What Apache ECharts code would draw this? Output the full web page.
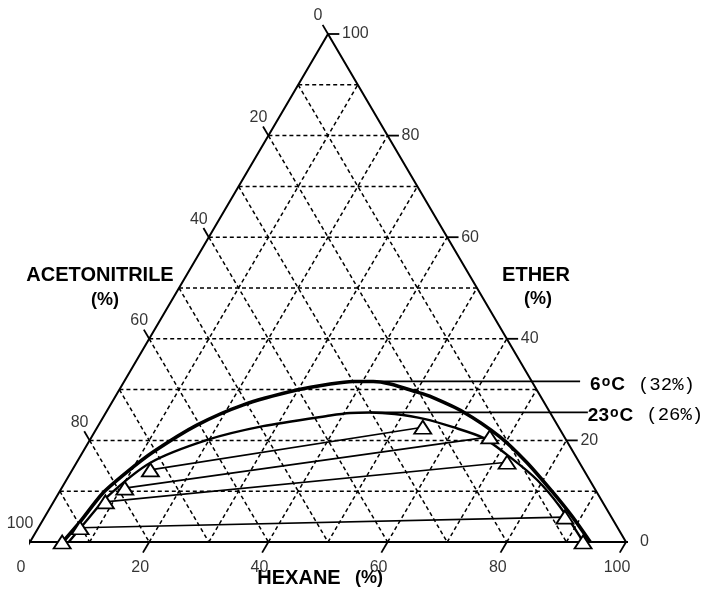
<!DOCTYPE html>
<html><head><meta charset="utf-8">
<script src="https://cdn.jsdelivr.net/npm/echarts@6/dist/echarts.min.js"></script>
<style>html,body{margin:0;padding:0;background:#fff}#c{width:717px;height:599px}</style>
</head><body><div id="c"></div>
<script>
// Ternary data: hexane %, ether % (acetonitrile = 100 - hexane - ether)
const gridLevels = [10, 20, 30, 40, 50, 60, 70, 80, 90];
const tickValues = [0, 20, 40, 60, 80, 100];

// 6 °C binodal curve (max ether 32 %)
const curve6Hexane = [5.5, 6.4, 7.4, 9.4, 11.8, 16.5, 22.3, 29.8, 34.8, 38.4, 41.8, 44.9, 50.2, 52.7, 59.9, 68.5, 75.6, 82.8, 88.6, 94.0];
const curve6Ether  = [0.0, 3.9, 9.6, 13.8, 17.7, 23.0, 27.0, 29.9, 31.1, 31.6, 31.6, 31.1, 29.5, 28.7, 25.6, 20.7, 15.6, 9.8, 4.9, 0.0];

// 23 °C binodal curve (max ether 26 %)
const curve23Hexane = [6.5, 7.4, 8.5, 12.4, 19.7, 27.7, 37.9, 41.0, 44.3, 48.6, 54.2, 59.7, 65.8, 72.2, 79.0, 85.5, 91.8, 92.6];
const curve23Ether  = [0.0, 4.3, 8.9, 15.6, 20.1, 22.8, 24.9, 25.4, 25.5, 25.2, 24.2, 22.6, 20.5, 16.7, 12.2, 6.9, 1.0, 0.0];

// Tie lines (end points, triangles)
const tieLeftHexane  = [13.1, 10.6, 8.7, 7.0, 5.4];
const tieLeftEther   = [14.2, 10.6, 7.9, 2.8, 0.0];
const tieRightHexane = [54.6, 66.8, 72.2, 87.3, 92.8];
const tieRightEther  = [22.6, 20.7, 15.7, 4.9, 0.0];

const curveLabels = ['6', '23'];
const curveMaxText = ['32%', '26%'];

function tern(h, e) { return [h + e / 2, e]; }

function seg(pts, ls, extra) {
  return Object.assign({
    type: 'line', data: pts, symbol: 'none', showSymbol: false,
    lineStyle: ls, clip: false, silent: true, z: 2, animation: false
  }, extra || {});
}

const series = [];
const dash = { color: '#000', width: 1.5, type: [4, 3] };

gridLevels.forEach(v => {
  series.push(seg([tern(0, v), tern(100 - v, v)], dash));          // const ether
  series.push(seg([tern(v, 0), tern(v, 100 - v)], dash));          // const hexane
  series.push(seg([tern(0, 100 - v), tern(100 - v, 0)], dash));    // const acetonitrile
});

// outer triangle
series.push(seg([tern(0, 0), tern(100, 0), tern(0, 100), tern(0, 0)], { color: '#000', width: 2 }, { z: 3 }));

// ticks
const tB = 2.1, tL = 1.8, tR = 1.9;
const solidTick = { color: '#000', width: 1.8 };
tickValues.forEach(v => {
  series.push(seg([tern(v, 0), tern(v, -tB)], solidTick, { z: 3 }));
  series.push(seg([tern(0, 100 - v), tern(-tL, 100 - v + tL)], solidTick, { z: 3 }));
  series.push(seg([tern(100 - v, v), tern(100 - v + tR, v)], solidTick, { z: 3 }));
});

const tickFont = { fontFamily: 'Liberation Sans', fontSize: 16, color: '#000' };
function tickLabelSeries(pts, labelOpt) {
  return {
    type: 'scatter', silent: true, animation: false, clip: false,
    symbolSize: 1, itemStyle: { color: 'rgba(0,0,0,0)' },
    data: pts,
    label: Object.assign({ show: true, formatter: '{b}' }, tickFont, labelOpt)
  };
}
series.push(tickLabelSeries(tickValues.map(v => ({ name: String(v), value: tern(v, 0) })),
  { position: 'inside', offset: [-9, 26], align: 'center', verticalAlign: 'middle' }));
series.push(tickLabelSeries(tickValues.map(v => ({ name: String(v), value: tern(0, 100 - v) })),
  { position: 'inside', offset: [-10, -18], align: 'center', verticalAlign: 'middle' }));
series.push(tickLabelSeries(tickValues.map(v => ({ name: String(v), value: tern(100 - v, v) })),
  { position: 'inside', offset: [14, 0], align: 'left', verticalAlign: 'middle' }));

// binodal curves
series.push({
  type: 'line', data: curve6Hexane.map((h, i) => tern(h, curve6Ether[i])),
  smooth: 0.25, symbol: 'none', showSymbol: false, silent: true, animation: false, clip: false,
  lineStyle: { color: '#000', width: 3.6 }, z: 4
});
series.push({
  type: 'line', data: curve23Hexane.map((h, i) => tern(h, curve23Ether[i])),
  smooth: 0.25, symbol: 'none', showSymbol: false, silent: true, animation: false, clip: false,
  lineStyle: { color: '#000', width: 2.4 }, z: 4
});

// tie lines with open triangles
tieLeftHexane.forEach((h, i) => {
  series.push({
    type: 'line', silent: true, animation: false, clip: false,
    data: [tern(h, tieLeftEther[i]), tern(tieRightHexane[i], tieRightEther[i])],
    symbol: 'triangle', symbolSize: [17, 13], showSymbol: true, showAllSymbol: true,
    itemStyle: { color: '#fff', borderColor: '#000', borderWidth: 1.8 },
    lineStyle: { color: '#000', width: 1.6 }, z: 5
  });
});

// leaders + curve labels
function peakPoint(hs, es) {
  let k = 0;
  es.forEach((e, i) => { if (e > es[k]) k = i; });
  return tern(hs[k], es[k]);
}
const leaderEndX = [92.3, 93.6];
const labelDistance = [10, 0];
const peaks = [peakPoint(curve6Hexane, curve6Ether), peakPoint(curve23Hexane, curve23Ether)];
const rich = {
  t: { fontFamily: 'Liberation Sans', fontWeight: 'bold', fontSize: 19, color: '#000', verticalAlign: 'bottom' },
  o: { fontFamily: 'Liberation Sans', fontWeight: 'bold', fontSize: 14, color: '#000', verticalAlign: 'top', padding: [0, 1, 0, 1] },
  p: { fontFamily: 'Liberation Mono', fontSize: 19, color: '#000', verticalAlign: 'bottom', padding: [0, 0, 0, 13] }
};
peaks.forEach((p, i) => {
  series.push({
    type: 'line', silent: true, animation: false, clip: false,
    data: [p, [leaderEndX[i], p[1]]],
    symbol: 'none', showSymbol: false,
    lineStyle: { color: '#000', width: 1.8 }, z: 4,
    endLabel: {
      show: true, distance: labelDistance[i], offset: [0, 3],
      formatter: '{t|' + curveLabels[i] + '}{o|o}{t|C}{p|(' + curveMaxText[i] + ')}',
      rich: rich
    }
  });
});

const titleStyle = (txt, x, y, size) => ({
  type: 'text', x: x, y: y, silent: true,
  style: { text: txt, fontFamily: 'Liberation Sans', fontWeight: 'bold', fontSize: size, fill: '#000',
           textAlign: 'center', textVerticalAlign: 'middle', align: 'center', verticalAlign: 'middle' }
});

const chart = echarts.init(document.getElementById('c'));
chart.setOption({
  animation: false,
  backgroundColor: '#fff',
  grid: { left: 30, right: 91, top: 34, bottom: 57 },
  xAxis: { type: 'value', min: 0, max: 100, show: false },
  yAxis: { type: 'value', min: 0, max: 100, show: false },
  graphic: [
    titleStyle('ACETONITRILE', 100, 275, 20),
    titleStyle('(%)', 105, 300, 18),
    titleStyle('ETHER', 536, 275, 20),
    titleStyle('(%)', 538, 299, 18),
    titleStyle('HEXANE', 299, 578, 20),
    titleStyle('(%)', 369, 578, 18)
  ],
  series: series
});
</script>
</body></html>
